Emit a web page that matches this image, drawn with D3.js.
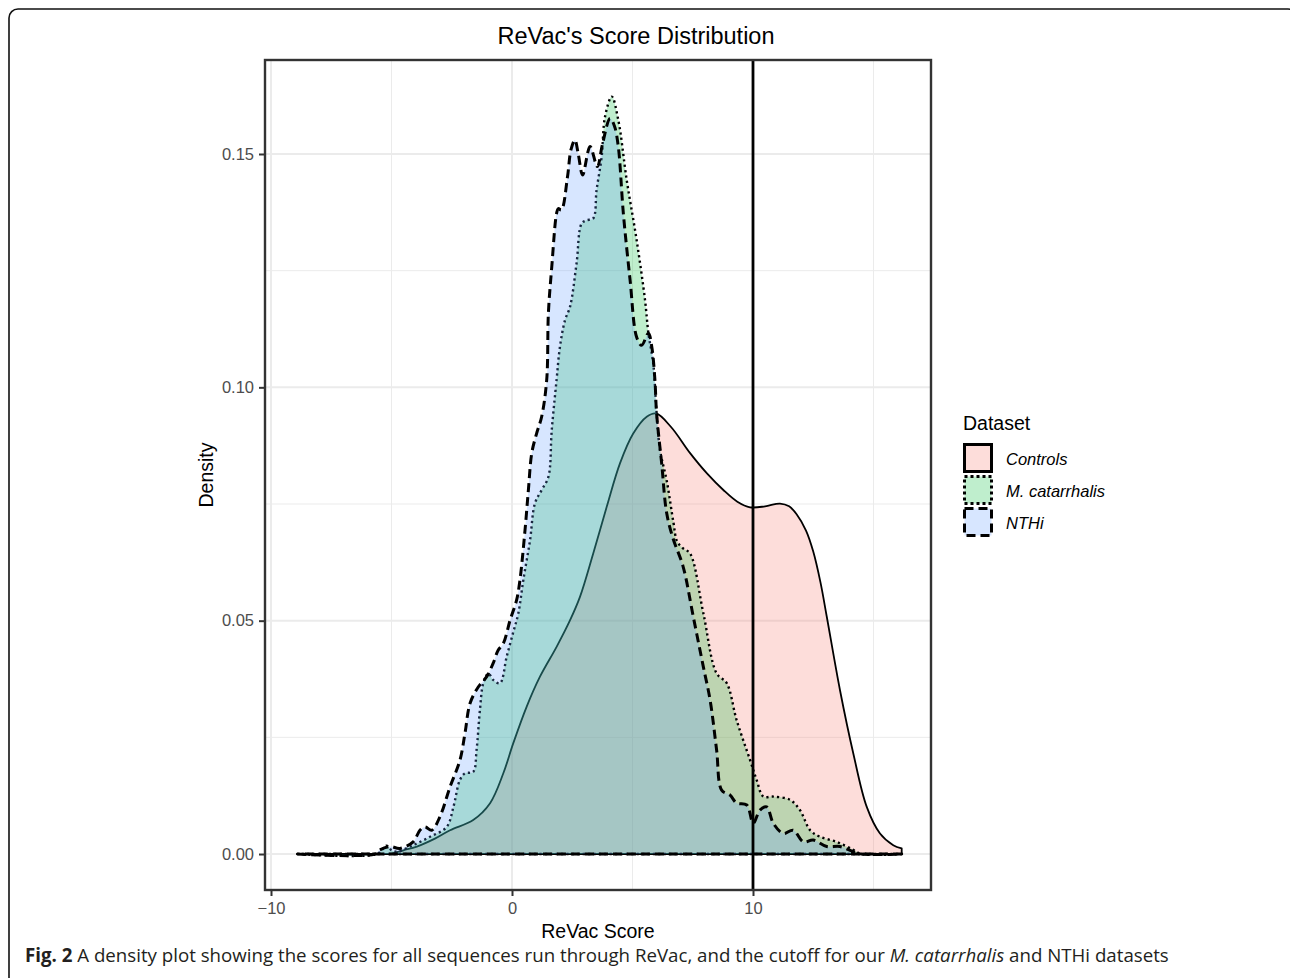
<!DOCTYPE html>
<html>
<head>
<meta charset="utf-8">
<script src="https://cdn.jsdelivr.net/npm/d3@7"></script>
<style>
body { margin: 0; background: #fff; }
svg { display: block; }
</style>
</head>
<body>
<svg width="1290" height="978"></svg>
<script>
// series (score, density)
var groups = ["Controls", "M. catarrhalis", "NTHi"];
var groupColors = ["#F8766D", "#00BA38", "#619CFF"];
var groupDash = ["none", "2.2,3.2", "9,5"];

var controlsScore = [-8.9, -6, -5, -4.5, -3.95, -3.2, -2.57, -1.61, -0.91, -0.36, 0.05, 0.61, 1.16, 1.85, 2.4, 2.82, 3.37, 3.93, 4.48, 5.03, 5.59, 5.98, 6.6, 7.39, 8.1, 8.77, 9.35, 9.88, 10.5, 11.12, 11.5, 11.81, 12.2, 12.5, 12.8, 13.06, 13.61, 14.16, 14.72, 15.27, 15.82, 16.17];
var controlsDensity = [0, 0, 0.0001, 0.0008, 0.0016, 0.0033, 0.0051, 0.0073, 0.0109, 0.0173, 0.0237, 0.0316, 0.038, 0.0444, 0.050, 0.0551, 0.0644, 0.0744, 0.0837, 0.0901, 0.0937, 0.0944, 0.0915, 0.0859, 0.0815, 0.078, 0.0755, 0.0743, 0.0745, 0.0751, 0.0745, 0.0728, 0.0693, 0.0648, 0.0582, 0.0509, 0.0351, 0.0216, 0.0101, 0.0044, 0.0019, 0.0012];

var catScore = [-8.9, -5.6, -5.34, -5.2, -5.0, -4.79, -4.1, -3.4, -2.71, -2.43, -2.16, -1.95, -1.61, -1.47, -1.33, -1.19, -0.98, -0.78, -0.5, -0.22, 0.05, 0.26, 0.47, 0.75, 0.95, 1.23, 1.51, 1.65, 1.85, 1.99, 2.2, 2.41, 2.68, 2.89, 3.1, 3.37, 3.51, 3.72, 3.86, 4.14, 4.41, 4.76, 5.17, 5.52, 5.66, 5.86, 6.0, 6.14, 6.42, 6.7, 6.85, 7.1, 7.39, 7.94, 8.49, 8.91, 9.32, 9.88, 10.15, 10.43, 10.84, 11.54, 11.95, 12.37, 12.78, 13.47, 14.16, 14.5, 16.17];
var catDensity = [0, 0, 0.0012, 0.0018, 0.0008, 0.0005, 0.0019, 0.0037, 0.0058, 0.0101, 0.0159, 0.0173, 0.0176, 0.0223, 0.0309, 0.0366, 0.0387, 0.0373, 0.0366, 0.0423, 0.0475, 0.0515, 0.0587, 0.0673, 0.0751, 0.078, 0.0808, 0.0909, 0.1016, 0.1087, 0.1144, 0.1173, 0.1266, 0.1351, 0.1358, 0.1362, 0.1423, 0.1494, 0.158, 0.1623, 0.1573, 0.1444, 0.1316, 0.1187, 0.1116, 0.1051, 0.0944, 0.0866, 0.080, 0.071, 0.067, 0.0655, 0.0644, 0.0516, 0.0387, 0.0366, 0.0287, 0.0201, 0.0159, 0.0123, 0.0123, 0.0116, 0.0094, 0.0051, 0.0037, 0.0026, 0.0009, 0, 0];

var nthiScore = [-8.9, -5.7, -5.48, -5.06, -4.65, -4.1, -3.82, -3.61, -3.33, -2.99, -2.57, -2.16, -1.95, -1.74, -1.4, -1.05, -0.78, -0.57, -0.36, -0.08, 0.19, 0.33, 0.54, 0.68, 0.82, 1.02, 1.23, 1.44, 1.51, 1.65, 1.85, 1.92, 2.05, 2.3, 2.45, 2.61, 2.75, 2.93, 3.24, 3.54, 3.75, 4.07, 4.25, 4.41, 4.62, 4.9, 5.17, 5.38, 5.66, 5.8, 5.93, 6.0, 6.21, 6.42, 6.69, 7.1, 7.52, 7.94, 8.22, 8.49, 8.7, 9.05, 9.32, 9.74, 10.01, 10.29, 10.57, 10.84, 11.26, 11.67, 12.09, 12.5, 13.06, 13.61, 14.16, 14.5, 16.17];
var nthiDensity = [0, 0, 0.0009, 0.0016, 0.0012, 0.0026, 0.0051, 0.0058, 0.0051, 0.008, 0.0144, 0.0201, 0.0259, 0.0323, 0.0358, 0.038, 0.0409, 0.0437, 0.0451, 0.0501, 0.0544, 0.0587, 0.0694, 0.078, 0.0859, 0.0901, 0.0937, 0.1016, 0.1159, 0.1258, 0.1373, 0.1383, 0.138, 0.145, 0.151, 0.153, 0.150, 0.1455, 0.1516, 0.1473, 0.152, 0.1576, 0.156, 0.1516, 0.1373, 0.123, 0.1108, 0.109, 0.1116, 0.1087, 0.1016, 0.0944, 0.0837, 0.073, 0.0675, 0.0616, 0.0509, 0.0401, 0.033, 0.0223, 0.0137, 0.0126, 0.0109, 0.0105, 0.0066, 0.0094, 0.0101, 0.0066, 0.0044, 0.0051, 0.0026, 0.003, 0.0016, 0.0016, 0.0005, 0, 0];

var xTicks = [-10, 0, 10];
var xMinor = [-5, 5, 15];
var yTicks = [0, 0.05, 0.10, 0.15];
var yMinor = [0.025, 0.075, 0.125];
var cutoff = 10;

var svg = d3.select("svg"),
    panel = {left: 265, top: 60, right: 931, bottom: 890};

var x = d3.scaleLinear().domain([-10.249, 17.386]).range([panel.left, panel.right]);
var y = d3.scaleLinear().domain([-0.00771, 0.17014]).range([panel.bottom, panel.top]);

// outer figure frame
svg.append("rect")
    .attr("x", 9).attr("y", 9).attr("width", 1288).attr("height", 1000)
    .attr("rx", 9).attr("fill", "none").attr("stroke", "#111").attr("stroke-width", 1.6);

var g = svg.append("g");

// grid
g.selectAll(".minx").data(xMinor).enter().append("line")
    .attr("x1", x).attr("x2", x).attr("y1", panel.top).attr("y2", panel.bottom)
    .attr("stroke", "#EBEBEB").attr("stroke-width", 1);
g.selectAll(".miny").data(yMinor).enter().append("line")
    .attr("x1", panel.left).attr("x2", panel.right).attr("y1", y).attr("y2", y)
    .attr("stroke", "#EBEBEB").attr("stroke-width", 1);
g.selectAll(".majx").data(xTicks).enter().append("line")
    .attr("x1", x).attr("x2", x).attr("y1", panel.top).attr("y2", panel.bottom)
    .attr("stroke", "#EBEBEB").attr("stroke-width", 2);
g.selectAll(".majy").data(yTicks).enter().append("line")
    .attr("x1", panel.left).attr("x2", panel.right).attr("y1", y).attr("y2", y)
    .attr("stroke", "#EBEBEB").attr("stroke-width", 2);

// densities
var series = [
    {scores: controlsScore, dens: controlsDensity},
    {scores: catScore, dens: catDensity},
    {scores: nthiScore, dens: nthiDensity}
];
var widths = [1.8, 2.4, 3];

var area = d3.area()
    .x(function(d) { return x(d[0]); })
    .y0(y(0))
    .y1(function(d) { return y(Math.max(0, d[1])); })
    .curve(d3.curveCatmullRom.alpha(0.5));

series.forEach(function(s, i) {
    var pts = s.scores.map(function(v, k) { return [v, s.dens[k]]; });
    g.append("path")
        .datum(pts)
        .attr("d", area)
        .attr("fill", groupColors[i])
        .attr("fill-opacity", 0.25)
        .attr("stroke", "#000")
        .attr("stroke-width", widths[i])
        .attr("stroke-dasharray", groupDash[i])
        .attr("stroke-linejoin", "round");
});

// cutoff
g.append("line")
    .attr("x1", x(cutoff)).attr("x2", x(cutoff))
    .attr("y1", panel.top).attr("y2", panel.bottom)
    .attr("stroke", "#000").attr("stroke-width", 2.8);

// panel border
g.append("rect")
    .attr("x", panel.left).attr("y", panel.top)
    .attr("width", panel.right - panel.left).attr("height", panel.bottom - panel.top)
    .attr("fill", "none").attr("stroke", "#333").attr("stroke-width", 2.4);

// axes
var xAxis = g.append("g")
    .attr("transform", "translate(0," + (panel.bottom + 1) + ")")
    .call(d3.axisBottom(x).tickValues(xTicks).tickSize(5).tickPadding(6));
var yAxis = g.append("g")
    .attr("transform", "translate(" + (panel.left - 1) + ",0)")
    .call(d3.axisLeft(y).tickValues(yTicks).tickSize(5).tickPadding(5).tickFormat(d3.format(".2f")));

[xAxis, yAxis].forEach(function(a) {
    a.select(".domain").remove();
    a.selectAll(".tick line").attr("stroke", "#333").attr("stroke-width", 2);
    a.selectAll(".tick text")
        .attr("fill", "#4D4D4D")
        .style("font-family", "'Liberation Sans', Arial, sans-serif")
        .style("font-size", "16.5px");
});

var font = "'Liberation Sans', Arial, sans-serif";

svg.append("text")
    .attr("x", 636).attr("y", 44)
    .attr("text-anchor", "middle")
    .style("font-family", font).style("font-size", "23.5px")
    .text("ReVac's Score Distribution");

svg.append("text")
    .attr("x", 598).attr("y", 938)
    .attr("text-anchor", "middle")
    .style("font-family", font).style("font-size", "19.5px")
    .text("ReVac Score");

svg.append("text")
    .attr("transform", "translate(213,475) rotate(-90)")
    .attr("text-anchor", "middle")
    .style("font-family", font).style("font-size", "19.5px")
    .text("Density");

// legend
var legend = svg.append("g");
legend.append("text")
    .attr("x", 963).attr("y", 430)
    .style("font-family", font).style("font-size", "19.5px")
    .text("Dataset");

groups.forEach(function(name, i) {
    var top = 443 + i * 32;
    legend.append("rect")
        .attr("x", 964.5).attr("y", top + 1.5)
        .attr("width", 27).attr("height", 27)
        .attr("fill", groupColors[i]).attr("fill-opacity", 0.25)
        .attr("stroke", "#000").attr("stroke-width", 3)
        .attr("stroke-dasharray", groupDash[i] === "none" ? "none" : (i === 1 ? "3,3" : "9,5"));
    legend.append("text")
        .attr("x", 1006).attr("y", top + 22)
        .style("font-family", font).style("font-size", "16.5px")
        .style("font-style", "italic")
        .text(name);
});

// caption
var cap = svg.append("text")
    .attr("x", 25).attr("y", 962)
    .style("font-family", "'Open Sans', 'Noto Sans', sans-serif")
    .style("font-size", "18px")
    .attr("fill", "#231F20");
cap.append("tspan").style("font-weight", "bold").text("Fig. 2");
cap.append("tspan").text(" A density plot showing the scores for all sequences run through ReVac, and the cutoff for our ");
cap.append("tspan").style("font-style", "italic").text("M. catarrhalis");
cap.append("tspan").text(" and NTHi datasets");

var len = cap.node().getComputedTextLength();
cap.style("font-size", (18 * 1144 / len).toFixed(2) + "px");
</script>
</body>
</html>
